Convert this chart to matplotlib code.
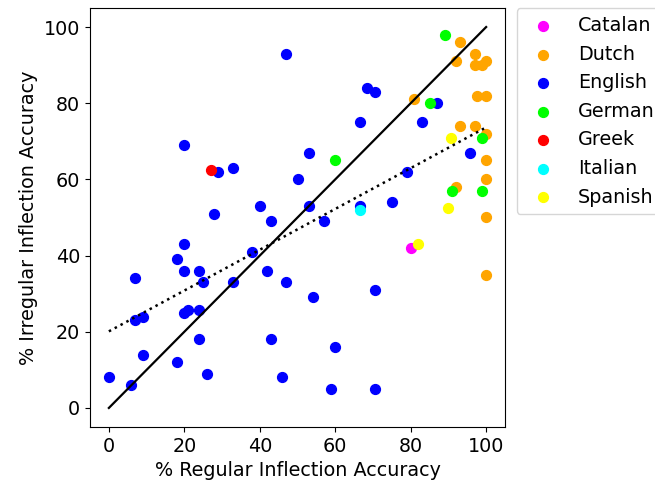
import numpy as np
import matplotlib
matplotlib.use("Agg")
import matplotlib.pyplot as plt

languages = ["Catalan", "Dutch", "English", "German", "Greek", "Italian", "Spanish"]
colors = ["magenta", "orange", "blue", "lime", "red", "cyan", "yellow"]

catalan_x = [80]
catalan_y = [42]

dutch_x = [93, 97, 92, 97, 99, 100, 81, 97.6, 100, 93, 97, 100, 100, 100, 92, 100, 100]
dutch_y = [96, 93, 91, 90, 90, 91, 81, 82, 82, 74, 74, 72, 65, 60, 58, 50, 35]

english_x = [47, 20, 29, 33, 50, 28, 40, 43, 68.5, 70.6, 87, 66.5, 83, 53, 95.7, 79,
             53, 66.5, 75, 57, 47, 54, 70.6, 60, 46, 59, 70.6, 20, 18, 7, 20, 24,
             25, 33, 38, 42, 7, 9, 20, 21, 24, 24, 43, 9, 18, 26, 0, 6]
english_y = [93, 69, 62, 63, 60, 51, 53, 49, 84, 83, 80, 75, 75, 67, 67, 62,
             53, 53, 54, 49, 33, 29, 31, 16, 8, 5, 5, 43, 39, 34, 36, 36,
             33, 33, 41, 36, 23, 24, 25, 25.7, 25.7, 18, 18, 14, 12, 9, 8, 6]

german_x = [89, 85, 99, 60, 91, 99]
german_y = [98, 80, 71, 65, 57, 57]

greek_x = [27]
greek_y = [62.5]

italian_x = [66.5]
italian_y = [52]

spanish_x = [90.6, 90, 82]
spanish_y = [71, 52.5, 43]

xs = [catalan_x, dutch_x, english_x, german_x, greek_x, italian_x, spanish_x]
ys = [catalan_y, dutch_y, english_y, german_y, greek_y, italian_y, spanish_y]

plt.rcParams['font.size'] = 13.8
fig = plt.figure(figsize=(6.55, 4.87), dpi=100)
ax = fig.add_axes([0.1374, 0.1232, 0.6336, 0.8604])

for lang, col, x, y in zip(languages, colors, xs, ys):
    ax.scatter(x, y, c=col, s=50, label=lang)

all_x = np.concatenate([np.array(x, dtype=float) for x in xs])
all_y = np.concatenate([np.array(y, dtype=float) for y in ys])

# identity line
ax.plot([0, 100], [0, 100], color='k', lw=1.6)

# linear fit
m, b = np.polyfit(all_x, all_y, 1)
fx = np.array([all_x.min(), all_x.max()])
ax.plot(fx, m * fx + b, 'k:', lw=1.8)

ax.set_xlim(-5, 105)
ax.set_ylim(-5, 105)
ax.set_xticks([0, 20, 40, 60, 80, 100])
ax.set_yticks([0, 20, 40, 60, 80, 100])
ax.set_xlabel("% Regular Inflection Accuracy")
ax.set_ylabel("% Irregular Inflection Accuracy")

ax.legend(loc='upper left', bbox_to_anchor=(1.005, 1.022))

fig.savefig("out.png", dpi=100)
